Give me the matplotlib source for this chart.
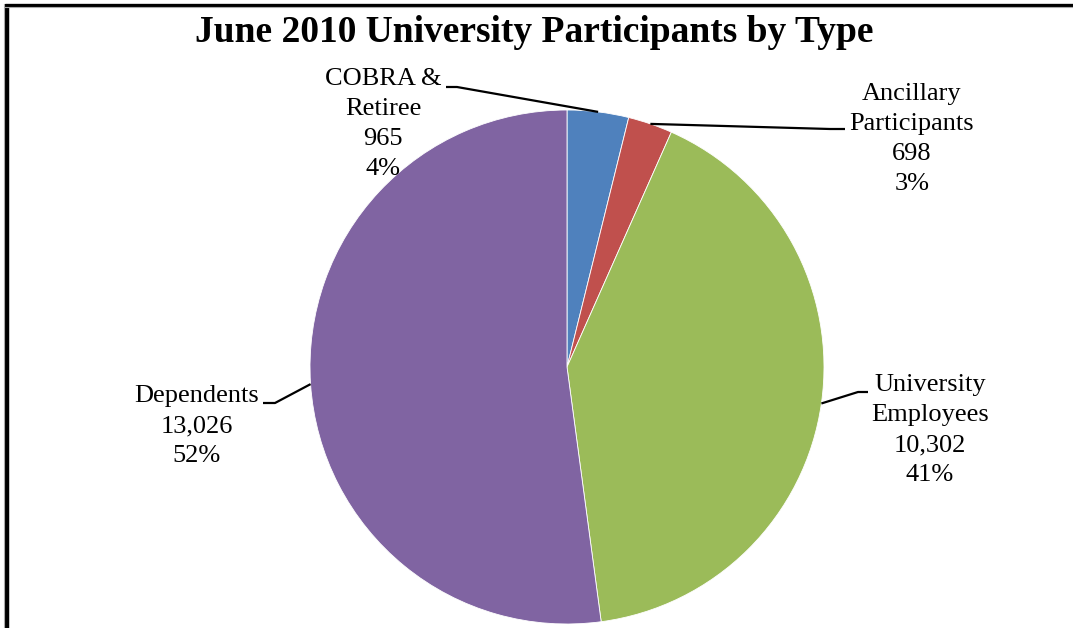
import numpy as np
import matplotlib.pyplot as plt

categories = ["COBRA &\nRetiree", "Ancillary\nParticipants", "University\nEmployees", "Dependents"]
counts = [965, 698, 10302, 13026]
colors = ["#4F81BD", "#C0504D", "#9BBB59", "#8064A2"]

W, H = 1073, 628
plt.rcParams['font.family'] = ['Liberation Serif', 'DejaVu Serif']

fig = plt.figure(figsize=(W / 100, H / 100), dpi=100)
ax = fig.add_axes([0, 0, 1, 1])

cx, cy, r = 567, H - 367, 257
wedges, _ = ax.pie(counts, colors=colors, startangle=90, counterclock=False,
                   center=(cx, cy), radius=r,
                   wedgeprops=dict(edgecolor="white", linewidth=0.6))
ax.set_xlim(0, W)
ax.set_ylim(0, H)
ax.set_aspect('auto')
ax.axis('off')

total = sum(counts)
# label block centres, and the side of the text the leader line joins
label_pos = [(383, H - 124), (912, H - 139), (930, H - 430), (197, H - 426)]
line_ends = [(446, H - 87), (845, H - 129), (868, H - 392), (263, H - 403)]
elbow = [11, -15, -10, 12]

for w, name, n, (tx, ty), (ex, ey), dx in zip(wedges, categories, counts, label_pos, line_ends, elbow):
    pct = round(100 * n / total)
    ax.text(tx, ty, f"{name}\n{n:,}\n{pct}%", ha='center', va='center',
            fontsize=19, linespacing=1.47)
    mid = np.deg2rad((w.theta1 + w.theta2) / 2)
    px, py = cx + r * np.cos(mid), cy + r * np.sin(mid)
    ax.plot([ex, ex + dx, px], [ey, ey, py], color='black', lw=1.6,
            solid_capstyle='butt')

fig.text(534 / W, 1 - 33 / H, "June 2010 University Participants by Type",
         ha='center', va='center', fontsize=27, fontweight='bold')

# chart frame (left and top edges visible)
ax.plot([6.5, 6.5], [0, H - 4], color='black', lw=3.2, solid_capstyle='butt')
ax.plot([4, 4], [0, H - 4], color='#aaaaaa', lw=0.8)
ax.plot([5, W], [H - 5, H - 5], color='black', lw=2.4, solid_capstyle='butt')
ax.plot([5, W], [H - 7, H - 7], color='#aaaaaa', lw=0.8)

fig.savefig("out.png", dpi=100)
